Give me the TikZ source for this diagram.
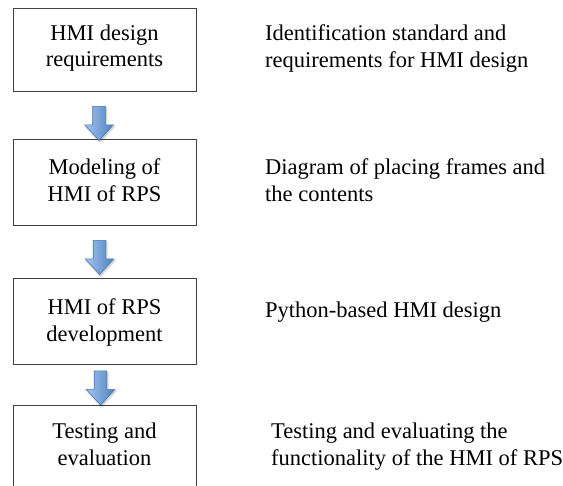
\documentclass[tikz,border=0pt]{standalone}
\usepackage{fontspec}
\setmainfont{Liberation Serif}
\usetikzlibrary{shapes.arrows,shadows.blur,positioning}

\definecolor{arrowtop}{RGB}{163,196,243}
\definecolor{arrowbot}{RGB}{79,129,189}
\definecolor{arrowedge}{RGB}{72,121,182}
\definecolor{boxedge}{RGB}{64,64,64}

\begin{document}
\begin{tikzpicture}[
  x=1pt,y=1pt,
  font=\rmfamily\fontsize{22.5}{26.8}\selectfont,
  stepbox/.style={draw=boxedge, line width=1pt, minimum width=183pt, inner sep=0pt},
  boxtext/.style={align=center, inner sep=0pt},
  desc/.style={align=left, anchor=west, inner sep=0pt},
  downarrow/.style={single arrow, rotate=-90, draw=arrowedge, line width=0.6pt,
    left color=arrowtop, right color=arrowbot,
    minimum height=34pt, inner sep=6pt,
    single arrow head extend=8pt, single arrow tip angle=85,
    blur shadow={shadow xshift=1pt, shadow yshift=-1.5pt, shadow blur radius=2pt, shadow opacity=30}}
]
\path[use as bounding box] (0,0) rectangle (563,486);

% Steps on the left
\node[stepbox, minimum height=83pt] (b1) at (104.5,435.5) {};
\node[stepbox, minimum height=86pt] (b2) at (104.5,303) {};
\node[stepbox, minimum height=86pt] (b3) at (104.5,164.5) {};
% last box runs off the page at the bottom
\node[stepbox, minimum height=90pt] (b4) at (104.5,35) {};

\node[boxtext] (t1) at (104.5,438) {HMI design\\requirements};
\node[boxtext] (t2) at (104.5,305.5) {Modeling of\\HMI of RPS};
\node[boxtext] (t3) at (104.5,163.5) {HMI of RPS\\development};
\node[boxtext] (t4) at (104.5,42) {Testing and\\evaluation};

% Block arrows between the steps
\node[downarrow] (a1) at (99,366) {};
\node[downarrow] (a2) at (99.5,232) {};
\node[downarrow] (a3) at (100.5,101.5) {};

% Descriptions on the right
\node[desc] (d1) at (265,437.5) {Identification standard and\\requirements for HMI design};
\node[desc] (d2) at (265,305.5) {Diagram of placing frames and\\the contents};
\node[desc] (d3) at (265,174) {Python-based HMI design};
\node[desc] (d4) at (271,39) {Testing and evaluating the\\functionality of the HMI of RPS};

\end{tikzpicture}
\end{document}
